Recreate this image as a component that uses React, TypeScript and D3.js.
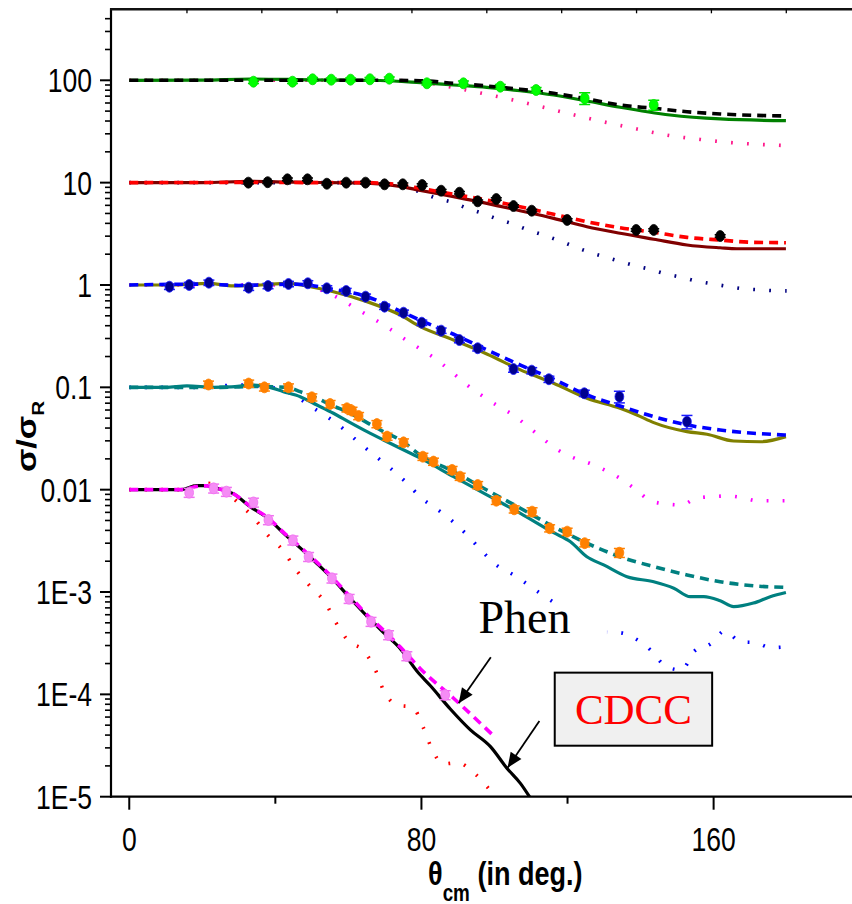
import React from "react";
import * as d3 from "d3";

type P = [number, number];
type E = [number, number, number];

// ---------- axes ----------
const X_DOMAIN: [number, number] = [-5, 200];
const Y_DOMAIN: [number, number] = [1e-5, 494];
const X_MAJOR = [0, 80, 160];
const X_LABELS = ["0", "80", "160"];
const X_MINOR = [40, 120];
const X_TOP = [15.8, 36.3, 56.9, 77.4, 97.9, 118.4, 138.9, 159.4, 179.9];
const Y_MAJOR = [1e-5, 1e-4, 1e-3, 0.01, 0.1, 1, 10, 100];
const Y_LABELS = ["1E-5", "1E-4", "1E-3", "0.01", "0.1", "1", "10", "100"];

// ---------- set ×100 ----------
const exp100: E[] = [
  [34.0, 96.9, 0.04], [44.7, 96.9, 0.04], [50.2, 102.3, 0.04], [55.3, 101.4, 0.04],
  [60.6, 101.4, 0.04], [65.9, 102.3, 0.04], [71.2, 103.7, 0.04], [81.5, 93.5, 0.04],
  [91.5, 93.5, 0.05], [101.6, 86.6, 0.05], [111.4, 80.4, 0.06], [124.7, 66.7, 0.13],
  [143.6, 57.4, 0.11],
];
const phen100: P[] = [
  [0, 100], [40, 100], [68.7, 100], [79.7, 99.1], [88.8, 93.5], [97.9, 88.0], [107, 81.7],
  [116.2, 74.6], [125.3, 65.7], [134.4, 57.4], [143.6, 53.3], [152.7, 49.3], [161.8, 46.9],
  [170.9, 45.5], [179.8, 44.8],
];
const cdcc100: P[] = [
  [0, 100], [20, 100.5], [33.1, 103], [50, 101], [68.7, 99.5], [79.7, 94.8], [88.8, 90.0],
  [97.9, 85.4], [107, 79.1], [116.2, 71.8], [125.3, 62.8], [134.4, 54.5], [148.1, 45.8],
  [161.8, 41.9], [179.8, 40.3],
];
const dot100: P[] = [
  [0, 100], [40, 100], [70, 100], [80, 96], [88.4, 85.4], [96.6, 74.6], [105.1, 64.2],
  [113.4, 54.5], [121.9, 45.8], [130.1, 39.1], [138.6, 33.7], [147.0, 29.2], [155.3, 26.7],
  [163.7, 24.8], [172.0, 23.7], [180, 23.0],
];

// ---------- set ×10 ----------
const exp10: E[] = [
  [32.6, 10.0, 0.03], [37.9, 10.1, 0.03], [43.3, 10.78, 0.03], [48.8, 10.78, 0.03],
  [54.1, 9.76, 0.03], [59.4, 10.0, 0.03], [64.7, 10.0, 0.03], [69.9, 9.63, 0.03],
  [74.9, 9.63, 0.03], [80.2, 9.48, 0.03], [85.4, 8.34, 0.03], [90.4, 7.97, 0.03],
  [95.4, 6.57, 0.03], [100.5, 6.92, 0.03], [105.2, 5.91, 0.03], [110.2, 5.32, 0.03],
  [119.9, 4.32, 0.03], [138.8, 3.45, 0.03], [143.6, 3.45, 0.03], [161.8, 3.01, 0.03],
];
const phen10: P[] = [
  [0, 10], [30, 10.05], [55, 10], [65, 10], [74.2, 9.5], [79.7, 8.8], [88.8, 7.69],
  [97.9, 6.77], [107.0, 5.82], [116.2, 4.91], [125.3, 4.15], [134.4, 3.63], [143.6, 3.27],
  [152.7, 2.92], [161.8, 2.75], [170.9, 2.61], [179.8, 2.59],
];
const cdcc10: P[] = [
  [0, 10], [20, 10], [33, 10.3], [45, 10.1], [55, 10], [65, 9.9], [74.2, 9.2], [79.7, 8.4],
  [88.8, 7.29], [97.9, 6.28], [107.0, 5.32], [116.2, 4.48], [125.3, 3.71], [134.4, 3.20],
  [143.6, 2.80], [152.7, 2.46], [161.8, 2.31], [166.4, 2.26], [179.8, 2.26],
];
const dot10: P[] = [
  [0, 10], [30, 10], [60, 10], [70, 9.7], [79.7, 8.1], [84.1, 7.03], [88.4, 6.43],
  [92.5, 5.62], [96.7, 5.02], [100.8, 4.41], [105.1, 3.94], [109.2, 3.45], [113.4, 3.08],
  [117.7, 2.71], [121.9, 2.37], [126.0, 2.09], [130.1, 1.89], [134.4, 1.70], [138.6, 1.54],
  [142.7, 1.42], [147.0, 1.28], [151.2, 1.19], [155.3, 1.094], [159.4, 1.03], [163.7, 0.971],
  [167.9, 0.92], [172.0, 0.90], [176.3, 0.88], [180, 0.875],
];

// ---------- set ×1 ----------
const exp1: E[] = [
  [11.0, 0.962, 0.06], [16.4, 1.0, 0.06], [21.8, 1.053, 0.06], [32.7, 0.941, 0.06],
  [38.0, 0.978, 0.06], [43.6, 1.023, 0.06], [48.9, 1.039, 0.06], [54.1, 0.928, 0.06],
  [59.4, 0.874, 0.06], [64.7, 0.769, 0.06], [69.9, 0.614, 0.06], [75.1, 0.536, 0.06],
  [80.1, 0.428, 0.06], [85.4, 0.358, 0.06], [90.4, 0.29, 0.06], [95.4, 0.241, 0.06],
  [105.2, 0.151, 0.07], [110.2, 0.1455, 0.07], [114.9, 0.12, 0.07], [124.6, 0.0875, 0.07],
  [134.2, 0.081, 0.13], [152.7, 0.0462, 0.15],
];
const phen1: P[] = [
  [0, 1], [20, 1.02], [30, 0.99], [45, 1.02], [50, 0.99], [54.1, 0.928], [59.6, 0.86],
  [65.1, 0.769], [70.6, 0.638], [75.1, 0.536], [80.6, 0.438], [88.8, 0.33], [97.9, 0.232],
  [107.1, 0.165], [116.2, 0.12], [125.3, 0.0842], [134.4, 0.0657], [143.6, 0.0517],
  [152.7, 0.0429], [161.8, 0.0383], [170.9, 0.0356], [179.8, 0.0342],
];
const cdcc1: P[] = [
  [0, 1], [12, 1.0], [21.7, 1.039], [28.5, 0.978], [36, 1.0], [43.2, 1.039], [49.6, 0.962],
  [55.9, 0.86], [65.1, 0.687], [74.2, 0.509], [79.7, 0.392], [88.8, 0.29], [97.9, 0.212],
  [107.1, 0.148], [116.2, 0.1096], [125.3, 0.0782], [134.4, 0.0624], [139.0, 0.0537],
  [143.6, 0.0452], [152.7, 0.0369], [158.2, 0.0348], [165.5, 0.0299], [172.8, 0.0294],
  [179.8, 0.033],
];
const dot1: P[] = [
  [0, 1], [30, 1], [46.8, 1.0], [54.6, 0.83], [63.1, 0.561], [71.5, 0.369], [75.8, 0.29],
  [80.1, 0.232], [84.3, 0.185], [88.4, 0.14], [92.5, 0.1054], [96.7, 0.0823], [100.8, 0.0662],
  [105.1, 0.0537], [109.2, 0.0413], [113.4, 0.0311], [117.7, 0.024], [121.9, 0.0203],
  [126.0, 0.0181], [130.1, 0.0156], [134.4, 0.0129], [138.6, 0.0101], [142.7, 0.0078],
  [147.0, 0.00725], [151.2, 0.00709], [155.3, 0.00824], [159.4, 0.00854], [163.7, 0.00868],
  [167.9, 0.00835], [172.0, 0.0078], [176.3, 0.0078], [180, 0.0078],
];

// ---------- set ×0.1 ----------
const exp01: E[] = [
  [21.7, 0.1065, 0.08], [32.7, 0.1089, 0.08], [37.0, 0.1, 0.08], [43.6, 0.1, 0.08],
  [50.0, 0.0799, 0.08], [55.0, 0.0688, 0.08], [59.6, 0.0624, 0.08], [61.0, 0.0591, 0.08],
  [62.8, 0.0525, 0.08], [67.8, 0.0438, 0.08], [70.6, 0.033, 0.08], [75.1, 0.029, 0.08],
  [80.4, 0.021, 0.08], [83.3, 0.0188, 0.08], [88.4, 0.0156, 0.08], [90.6, 0.0134, 0.08],
  [95.4, 0.0111, 0.08], [100.5, 0.0078, 0.08], [105.4, 0.00643, 0.08], [110.3, 0.0061, 0.09],
  [115.1, 0.0042, 0.08], [119.9, 0.00389, 0.08], [124.7, 0.003, 0.08], [134.2, 0.00242, 0.1],
];
const phen01: P[] = [
  [0, 0.1], [15, 0.1], [25, 0.1], [35, 0.102], [43.2, 0.1], [46.8, 0.0907], [51.4, 0.0782],
  [55.9, 0.0657], [60.5, 0.0558], [65.1, 0.0452], [69.6, 0.0369], [74.2, 0.0306],
  [79.7, 0.0218], [88.8, 0.015], [97.9, 0.00993], [107.1, 0.00658], [116.2, 0.00435],
  [125.3, 0.003], [134.4, 0.00221], [143.6, 0.00177], [152.7, 0.00147], [161.8, 0.00126],
  [170.9, 0.00115], [179.8, 0.00111],
];
const cdcc01: P[] = [
  [0, 0.1], [10, 0.1], [15.8, 0.1031], [23.1, 0.1], [28, 0.101], [33.1, 0.1054],
  [37.7, 0.1015], [42.2, 0.0907], [46.8, 0.081], [51.4, 0.0672], [55.9, 0.0558],
  [60.5, 0.0452], [65.1, 0.0369], [69.6, 0.0306], [74.2, 0.0254], [79.7, 0.0203],
  [88.8, 0.0134], [97.9, 0.00888], [107.1, 0.00588], [116.2, 0.0038], [120.8, 0.0031],
  [125.3, 0.00221], [129.9, 0.00184], [136.3, 0.00141], [143.6, 0.00126], [149.1, 0.00109],
  [153.6, 0.0009], [157.3, 0.0009], [161.8, 0.00082], [165.5, 0.00072], [170.9, 0.00078],
  [175.5, 0.0009], [179.8, 0.00099],
];
const dot01: P[] = [
  [0, 0.1], [20, 0.1], [29.5, 0.1054], [38.6, 0.1], [42.2, 0.094], [46.4, 0.0782],
  [50.5, 0.0624], [54.8, 0.0498], [59.0, 0.0383], [63.1, 0.0284], [67.4, 0.0213],
  [71.5, 0.0162], [75.6, 0.012], [80.1, 0.00824], [84.3, 0.00643], [88.4, 0.00495],
  [92.5, 0.00361], [96.7, 0.00248], [100.8, 0.0018], [105.1, 0.00148], [112, 0.001],
  [118, 0.00072], [124, 0.00052], [130.1, 0.000404], [134.3, 0.0004], [138.4, 0.000353],
  [142.7, 0.000272], [147.0, 0.000187], [151.2, 0.000173], [154.8, 0.000266],
  [159.0, 0.000309], [163.1, 0.000416], [167.3, 0.000327], [171.5, 0.00032],
  [175.7, 0.000286], [179.9, 0.000292],
];

// ---------- set ×0.01 ----------
const exp001: E[] = [
  [16.4, 0.00935, 0.1], [23.1, 0.0103, 0.1], [26.6, 0.00956, 0.1], [34.0, 0.0075, 0.1],
  [38.1, 0.00506, 0.1], [44.8, 0.0032, 0.1], [49.1, 0.00221, 0.1], [55.5, 0.00136, 0.1],
  [60.2, 0.00086, 0.1], [66.2, 0.000513, 0.1], [71.0, 0.00038, 0.1], [76.0, 0.000237, 0.1],
  [86.5, 0.0000986, 0.1],
];
const phen001: P[] = [
  [0, 0.01], [14, 0.01], [19, 0.0108], [21.3, 0.0109], [24, 0.0103], [28.6, 0.0091],
  [33.1, 0.0069], [37.7, 0.0054], [42.3, 0.0038], [46.8, 0.00275], [51.4, 0.00195],
  [55.9, 0.00135], [60, 0.00094], [65.1, 0.0006], [70, 0.00041], [74.2, 0.00029],
  [79.7, 0.000178], [88.8, 0.0000916], [99.8, 0.0000392],
];
const cdcc001: P[] = [
  [0, 0.01], [14, 0.01], [18.5, 0.01094], [21.3, 0.01094], [24.0, 0.0103], [28.6, 0.00908],
  [33.1, 0.00682], [37.7, 0.00535], [42.3, 0.00375], [46.8, 0.0027], [51.4, 0.0019],
  [55.9, 0.00132], [60, 0.00091], [65.1, 0.00058], [70, 0.00039], [74.2, 0.00028],
  [78.8, 0.000168], [82.4, 0.000122], [87.9, 0.000072], [93.4, 0.000045], [98.9, 0.0000308],
  [103.4, 0.000019], [107.1, 0.0000135], [110, 0.0000095],
];
const dot001: P[] = [
  [0, 0.01], [14, 0.01], [21.3, 0.01155], [25, 0.0105], [29.5, 0.00764], [33.8, 0.00545],
  [37.9, 0.00361], [42.1, 0.00254], [45.7, 0.00164], [49.7, 0.00112], [53.7, 0.000787],
  [56.6, 0.000502], [60.0, 0.000332], [64.2, 0.000267], [67.4, 0.000173], [69.6, 0.00011],
  [73.3, 0.0000788], [77.6, 0.0000748], [80.4, 0.0000484], [82.6, 0.0000308],
  [85.9, 0.0000209], [90.0, 0.0000215], [94.3, 0.0000172], [98.6, 0.0000118], [101, 0.0000095],
];

// ---------- annotations (θ, σ/σR) ----------
const PHEN_LABEL: P = [95.6, 3.98e-4];
const PHEN_ARROW: [P, P] = [[99.0, 2.3e-4], [90.2, 8.18e-5]];
const CDCC_ARROW: [P, P] = [[112.3, 5.5e-5], [103.6, 1.92e-5]];
const CDCC_BOX: [P, P] = [[116.5, 1.63e-4], [159.6, 3.15e-5]];
const PHEN_MASK: [P, P] = [[96.5, 7.4e-4], [130.8, 1.6e-4]];

const LINES: { data: P[]; color: string; kind: "dot" | "solid" | "dash" }[] = [
  { data: dot100, color: "#ff1a8c", kind: "dot" },
  { data: dot10, color: "#000080", kind: "dot" },
  { data: dot1, color: "#ff00ff", kind: "dot" },
  { data: dot01, color: "#0000ff", kind: "dot" },
  { data: dot001, color: "#ff0000", kind: "dot" },
  { data: cdcc100, color: "#008000", kind: "solid" },
  { data: cdcc10, color: "#800000", kind: "solid" },
  { data: cdcc1, color: "#808000", kind: "solid" },
  { data: cdcc01, color: "#008080", kind: "solid" },
  { data: cdcc001, color: "#000000", kind: "solid" },
  { data: phen100, color: "#000000", kind: "dash" },
  { data: phen10, color: "#ff0000", kind: "dash" },
  { data: phen1, color: "#0000ff", kind: "dash" },
  { data: phen01, color: "#008080", kind: "dash" },
  { data: phen001, color: "#ff00ff", kind: "dash" },
];

const POINTS: { data: E[]; fill: string; stroke: string }[] = [
  { data: exp100, fill: "#00ff00", stroke: "#00e000" },
  { data: exp10, fill: "#000000", stroke: "#000000" },
  { data: exp1, fill: "#00008f", stroke: "#1a1aff" },
  { data: exp01, fill: "#ff8000", stroke: "#ff8000" },
  { data: exp001, fill: "#f58cf5", stroke: "#f070f0" },
];

const W = 852;
const H = 904;
const LEFT = 111;
const RIGHT = 859.7;
const TOP = 9.3;
const BOTTOM = 796.7;

const arrowHead = (from: [number, number], to: [number, number]) => {
  const dx = to[0] - from[0];
  const dy = to[1] - from[1];
  const len = Math.hypot(dx, dy);
  const ux = dx / len, uy = dy / len;
  const L = 15, Wd = 6.5;
  const bx = to[0] - ux * L, by = to[1] - uy * L;
  return `${to[0]},${to[1]} ${bx - uy * Wd},${by + ux * Wd} ${bx + uy * Wd},${by - ux * Wd}`;
};

export default function App() {
  const x = d3.scaleLinear().domain(X_DOMAIN).range([LEFT, RIGHT]);
  const y = d3.scaleLog().domain(Y_DOMAIN).range([BOTTOM, TOP]);
  const line = d3
    .line<P>()
    .x((d) => x(d[0]))
    .y((d) => y(d[1]))
    .curve(d3.curveMonotoneX);

  const yMinor = y
    .ticks()
    .filter((t) => !Y_MAJOR.some((m) => Math.abs(t / m - 1) < 1e-6) && t <= Y_DOMAIN[1]);

  const lab = "'Liberation Sans', Arial, sans-serif";
  const serif = "'Liberation Serif', 'Times New Roman', serif";

  const pA = PHEN_ARROW.map((p) => [x(p[0]), y(p[1])] as [number, number]);
  const cA = CDCC_ARROW.map((p) => [x(p[0]), y(p[1])] as [number, number]);
  const bx0 = x(CDCC_BOX[0][0]), by0 = y(CDCC_BOX[0][1]);
  const bx1 = x(CDCC_BOX[1][0]), by1 = y(CDCC_BOX[1][1]);
  const mx0 = x(PHEN_MASK[0][0]), my0 = y(PHEN_MASK[0][1]);
  const mx1 = x(PHEN_MASK[1][0]), my1 = y(PHEN_MASK[1][1]);

  return (
    <svg
      width={W}
      height={H}
      viewBox={`0 0 ${W} ${H}`}
      style={{ position: "absolute", left: 0, top: 0, background: "#fff" }}
    >
      <rect x={0} y={0} width={W} height={H} fill="#fff" />
      <defs>
        <clipPath id="plot">
          <rect x={LEFT} y={TOP} width={W - LEFT} height={BOTTOM - TOP} />
        </clipPath>
      </defs>

      <g clipPath="url(#plot)">
        {LINES.map((s, i) => (
          <path
            key={i}
            d={line(s.data) || ""}
            fill="none"
            stroke={s.color}
            strokeWidth={s.kind === "dot" ? 3.6 : s.kind === "dash" ? 3.6 : 3.2}
            strokeDasharray={s.kind === "dot" ? "1.8 14.2" : s.kind === "dash" ? "9 6" : undefined}
            strokeLinejoin="round"
          />
        ))}
        {POINTS.map((s, i) => (
          <g key={i}>
            {s.data.map((d, j) => {
              const cx = x(d[0]);
              const yl = y(d[1] * (1 - d[2]));
              const yh = y(d[1] * (1 + d[2]));
              return (
                <g key={j}>
                  <line x1={cx} x2={cx} y1={yl} y2={yh} stroke={s.stroke} strokeWidth={1.5} />
                  <line x1={cx - 5.5} x2={cx + 5.5} y1={yl} y2={yl} stroke={s.stroke} strokeWidth={1.5} />
                  <line x1={cx - 5.5} x2={cx + 5.5} y1={yh} y2={yh} stroke={s.stroke} strokeWidth={1.5} />
                  <ellipse cx={cx} cy={y(d[1])} rx={4.4} ry={5.5} fill={s.fill} stroke={s.stroke} strokeWidth={0.8} />
                </g>
              );
            })}
          </g>
        ))}
      </g>

      {/* mask behind Phen label */}
      <rect x={mx0} y={my0} width={mx1 - mx0} height={my1 - my0} fill="#fff" />

      {/* axes */}
      <line x1={LEFT} x2={LEFT} y1={TOP - 1} y2={BOTTOM + 1} stroke="#000" strokeWidth={2.2} />
      <line x1={LEFT - 1} x2={W} y1={BOTTOM} y2={BOTTOM} stroke="#000" strokeWidth={2.2} />
      <line x1={LEFT - 1} x2={W} y1={TOP} y2={TOP} stroke="#111" strokeWidth={2.6} />
      {X_TOP.map((t, i) => (
        <line key={i} x1={x(t)} x2={x(t)} y1={TOP} y2={TOP + 4} stroke="#000" strokeWidth={1.3} />
      ))}
      {Y_MAJOR.map((t, i) => (
        <g key={i}>
          <line x1={LEFT - 11} x2={LEFT} y1={y(t)} y2={y(t)} stroke="#000" strokeWidth={2} />
          <text
            transform={`translate(92, ${y(t) + 12}) scale(0.78, 1)`}
            textAnchor="end"
            fontFamily={lab}
            fontSize={34}
            fill="#000"
          >
            {Y_LABELS[i]}
          </text>
        </g>
      ))}
      {yMinor.map((t, i) => (
        <line key={i} x1={LEFT - 6} x2={LEFT} y1={y(t)} y2={y(t)} stroke="#000" strokeWidth={1.6} />
      ))}
      {X_MAJOR.map((t, i) => (
        <g key={i}>
          <line x1={x(t)} x2={x(t)} y1={BOTTOM} y2={BOTTOM + 13} stroke="#000" strokeWidth={2} />
          <text
            transform={`translate(${x(t)}, 851) scale(0.78, 1)`}
            textAnchor="middle"
            fontFamily={lab}
            fontSize={34}
            fill="#000"
          >
            {X_LABELS[i]}
          </text>
        </g>
      ))}
      {X_MINOR.map((t, i) => (
        <line key={i} x1={x(t)} x2={x(t)} y1={BOTTOM} y2={BOTTOM + 7} stroke="#000" strokeWidth={2} />
      ))}

      {/* axis titles */}
      <text
        transform="translate(428, 885) scale(0.82, 1)"
        fontFamily={lab}
        fontWeight="bold"
        fontSize={33}
        fill="#000"
      >
        θ
        <tspan fontSize={23} dy={16}>cm</tspan>
        <tspan dy={-16}> (in deg.)</tspan>
      </text>
      <text
        transform="translate(36, 472) rotate(-90) scale(1.22, 1)"
        fontFamily={lab}
        fontWeight="bold"
        fontSize={28}
        fill="#000"
      >
        σ/σ
        <tspan fontSize={17} dy={8}>R</tspan>
      </text>

      {/* annotations */}
      <text x={x(PHEN_LABEL[0])} y={y(PHEN_LABEL[1])} fontFamily={serif} fontSize={46} fill="#000">
        Phen
      </text>
      <line x1={pA[0][0]} y1={pA[0][1]} x2={pA[1][0]} y2={pA[1][1]} stroke="#000" strokeWidth={1.8} />
      <polygon points={arrowHead(pA[0], pA[1])} fill="#000" />
      <line x1={cA[0][0]} y1={cA[0][1]} x2={cA[1][0]} y2={cA[1][1]} stroke="#000" strokeWidth={1.8} />
      <polygon points={arrowHead(cA[0], cA[1])} fill="#000" />
      <rect x={bx0} y={by0} width={bx1 - bx0} height={by1 - by0} fill="#f0f0f0" stroke="#000" strokeWidth={2} />
      <text
        x={(bx0 + bx1) / 2}
        y={by0 + 51.5}
        textAnchor="middle"
        fontFamily={serif}
        fontSize={43}
        fill="#ff0000"
      >
        CDCC
      </text>
    </svg>
  );
}
